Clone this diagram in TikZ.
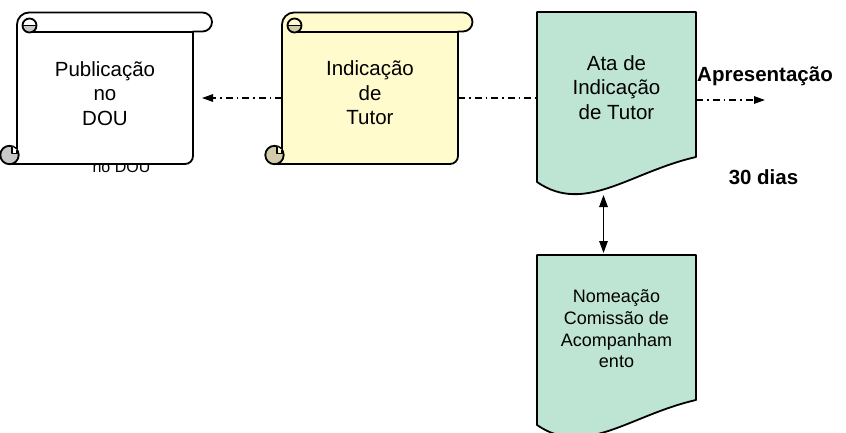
\documentclass[tikz,border=0pt]{standalone}
\usepackage{fontspec}
\setmainfont{Liberation Sans}
\usetikzlibrary{arrows.meta}

\definecolor{scrollyellow}{RGB}{255,251,204}
\definecolor{curlolive}{RGB}{208,203,170}
\definecolor{curlgray}{RGB}{200,200,200}
\definecolor{docgreen}{RGB}{190,228,211}

\tikzset{
  outline/.style={draw=black, line width=1.8pt, line join=round},
  flow/.style={line width=1.4pt, dash pattern=on 7pt off 4pt on 1.5pt off 4pt},
  flowtip/.tip={Triangle[length=11pt,width=7.5pt]},
  linktip/.tip={Triangle[length=12pt,width=8.5pt]},
  bigtext/.style={font=\fontsize{20.5}{24.5}\selectfont, align=center, inner sep=0pt},
  smalltext/.style={font=\fontsize{18}{21.7}\selectfont, align=center, inner sep=0pt},
  boldtext/.style={font=\bfseries\fontsize{20.5}{24.5}\selectfont, inner sep=0pt},
  % scroll: #1 paper colour, #2 curl colour, #3 right end of the top roll
  pics/scroll/.style n args={3}{code={
    \path[outline, fill=#1] (0,137.5) -- (0,12)
      arc[start angle=180, end angle=270, radius=12]
      -- ({#3-9.5},0) arc[start angle=-90, end angle=90, radius=9.5]
      -- (176,19) -- (176,143.5)
      arc[start angle=0, end angle=90, radius=8]
      -- (-7.5,151.5) -- cycle;
    \draw[outline] (12.5,19.5) -- (176,19.5);
    % top curl
    \path[fill=#2] (5.5,13) arc[start angle=180, end angle=0, radius=7] -- cycle;
    \draw[outline] (12.5,13) circle[radius=7];
    \draw[outline] (5.5,13) -- (19.5,13);
    % bottom curl
    \draw[outline, fill=#2] (-7.5,142.5) circle[radius=9.2];
    \path[fill=#1] (0,137.5) -- (0,141) -- (-5,141) -- (-5,134) -- cycle;
    \draw[outline] (0,137) -- (0,141) -- (-5,141) -- (-5,134.5);
    \coordinate (-west) at (0,85.5);
    \coordinate (-east) at (176,85.5);
  }}
}

\begin{document}
\begin{tikzpicture}[x=1pt, y=-1pt]
  \useasboundingbox (0,0) rectangle (846,432);
  \clip (0,0) rectangle (846,432);

  % caption partly hidden behind the first scroll
  \node[anchor=base, font=\fontsize{16}{19}\selectfont, inner sep=0pt] (pubnote) at (121.5,172) {no DOU};

  \pic (s1) at (17,12.5) {scroll={white}{curlgray}{195}};
  \pic (s2) at (282,12.5) {scroll={scrollyellow}{curlolive}{190.5}};

  \node[bigtext] (pubtxt) at (105,93.5) {Publicação\\no\\DOU};
  \node[bigtext] (indtxt) at (370,93) {Indicação\\de\\Tutor};

  % documents
  \draw[outline, fill=docgreen] (537,12) -- (696,12) -- (696,157)
    .. controls (630,172) and (585,215) .. (537,182) -- cycle;
  \draw[outline, fill=docgreen] (537,255) -- (696,255) -- (696,400)
    .. controls (630,415) and (585,458) .. (537,425) -- cycle;
  \coordinate (ata-west) at (537,98);
  \coordinate (ata-east) at (696,100);
  \coordinate (ata-bottom) at (603.5,195);
  \coordinate (nom-top) at (603.5,253);
  \coordinate (apr-tip) at (765,100);

  \node[bigtext] (atatxt) at (616.5,87.5) {Ata de\\Indicação\\de Tutor};
  \node[smalltext] (nomtxt) at (616.5,329) {Nomeação\\Comissão de\\Acompanham\\ento};

  \node[boldtext, anchor=base] (apr) at (765,81) {Apresentação};
  \node[boldtext, anchor=base] (dias) at (763.5,184) {30 dias};

  % connectors
  \draw[flow, -flowtip] (s2-west) -- ([xshift=9pt]s1-east);
  \draw[flow] (s2-east) -- (ata-west);
  \draw[flow, -flowtip] (ata-east) -- (apr-tip);
  \draw[line width=1.4pt, linktip-linktip] (ata-bottom) -- (nom-top);
\end{tikzpicture}
\end{document}
